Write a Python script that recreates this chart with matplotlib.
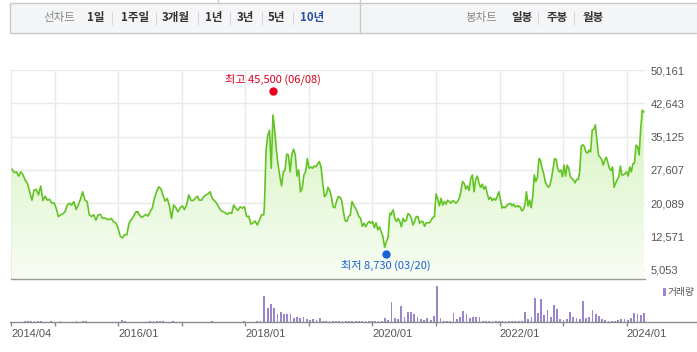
import numpy as np
import matplotlib.pyplot as plt
from matplotlib.patches import Rectangle, Polygon
from matplotlib.lines import Line2D
from matplotlib.colors import LinearSegmentedColormap

W, H = 697, 352
KR = ['Noto Sans CJK KR', 'DejaVu Sans']
NUM = ['Liberation Sans', 'DejaVu Sans']

# price in thousand won in five ~2 year stretches
seg_years = [(2014.33, 2016.31), (2016.30, 2018.29), (2018.30, 2020.30),
             (2020.30, 2022.30), (2022.30, 2024.27)]
price_1 = [27.8, 27.0, 27.2, 26.25, 27.2, 26.5, 25.3, 24.6, 22.7, 20.8, 23.1, 23.2, 22.0, 24.0,
           20.7, 21.7, 20.8, 21.0, 20.1, 20.2, 19.0, 17.1, 17.5, 17.7, 18.2, 19.7, 20.1, 19.7,
           20.5, 18.7, 19.7, 21.0, 22.7, 20.8, 20.5, 17.5, 17.1, 17.5, 16.3, 17.5, 17.6, 16.7,
           16.8, 16.5, 16.4, 16.7, 15.9, 15.7, 14.5, 12.7, 12.3, 13.0, 13.0, 15.6, 16.4, 17.1,
           18.1, 18.2]
price_2 = [18.2, 17.5, 16.9, 17.2, 17.6, 17.2, 18.2, 19.0, 21.2, 22.7, 23.8, 23.4, 22.0, 20.6,
           21.2, 19.5, 16.7, 19.7, 19.1, 18.2, 19.1, 19.5, 18.7, 19.7, 22.0, 20.8, 20.7, 21.2,
           21.7, 20.8, 20.8, 21.6, 22.0, 22.2, 22.7, 21.2, 20.7, 20.1, 19.3, 18.5, 18.2, 18.0,
           17.6, 18.0, 17.8, 19.7, 19.0, 18.5, 19.3, 19.0, 19.3, 17.1, 17.2, 15.4, 15.7, 16.1,
           15.2, 16.3, 17.5, 17.5]
price_3 = [19.3, 32.1, 35.5, 36.6, 28.0, 40.0, 36.6, 32.1, 28.7, 26.25, 24.0, 27.2, 27.5, 31.2,
           31.0, 27.2, 31.2, 32.3, 31.0, 26.25, 27.6, 22.7, 23.4, 26.5, 27.2, 30.2, 28.0, 28.3,
           28.0, 28.5, 28.3, 29.0, 29.5, 28.3, 24.6, 21.6, 22.0, 23.7, 23.0, 21.6, 19.3, 19.1,
           20.5, 21.6, 21.5, 20.8, 18.2, 16.2, 16.0, 17.1, 17.5, 20.5, 19.7, 19.0, 18.2, 17.1,
           16.7, 14.9, 15.6, 14.8, 15.6, 16.0, 15.6, 16.0, 14.6, 15.7, 14.1, 14.8, 13.7, 12.6,
           10.2, 11.4, 12.4, 17.8, 17.5]
price_4 = [18.0, 18.6, 16.7, 16.0, 16.7, 16.0, 14.8, 16.7, 16.0, 16.3, 17.8, 17.5, 16.7, 15.2,
           16.0, 17.1, 17.1, 15.6, 16.0, 16.0, 14.9, 15.7, 15.7, 15.7, 16.3, 16.9, 17.1, 22.2,
           21.0, 19.5, 21.2, 19.7, 20.5, 19.9, 20.8, 20.5, 20.1, 20.7, 20.5, 20.1, 20.5, 21.2,
           22.7, 25.0, 24.6, 23.3, 24.0, 23.0, 25.7, 26.5, 22.7, 25.5, 26.25, 24.6, 23.7, 24.4,
           23.3, 23.9, 22.2, 21.0, 21.5, 20.7, 21.2, 20.8, 21.6, 22.7, 20.8, 19.0, 19.3, 19.1,
           19.7, 19.9, 20.1, 19.5, 19.9, 19.3, 19.5, 19.3]
price_5 = [19.5, 19.3, 18.4, 18.7, 19.7, 22.7, 19.5, 20.8, 19.1, 21.6, 26.5, 25.0, 26.0, 30.2,
           29.8, 28.0, 26.8, 25.0, 24.2, 23.7, 24.2, 25.7, 28.0, 30.2, 30.0, 27.8, 27.2, 27.6,
           26.1, 28.7, 26.25, 28.7, 28.0, 26.1, 25.7, 25.4, 24.7, 25.5, 25.4, 27.2, 33.0, 33.3,
           32.9, 31.7, 31.4, 32.1, 31.7, 36.6, 36.8, 37.8, 34.4, 31.0, 30.5, 30.0, 28.7, 29.8,
           30.5, 29.3, 28.0, 27.5, 28.3, 23.7, 24.6, 25.5, 26.0, 28.5, 26.5, 26.5, 26.8, 27.2,
           26.25, 28.3, 27.2, 29.0, 29.2, 33.2, 32.9, 31.0, 37.0, 41.1, 40.7]

# trading volume (relative units), same stretches
vol_1 = [0, 0, 0, 0.3, 1, 1, 1.2, 1, 1.2, 1, 0.5, 0, 1, 0, 0, 1, 0, 0, 0, 0,
         1.2, 0, 1.5, 1.3, 0, 0, 0, 0, 0, 0, 0, 0, 0, 0, 2.2, 1, 0.5, 0, 0, 0.5]
vol_2 = [0.5, 0, 0, 0, 1, 1, 1.2, 1, 1, 0.5, 0, 1, 0, 0, 0, 0, 0.8, 0, 0, 0,
         0, 0, 0, 1.3, 0, 0, 0, 0, 0, 0, 0, 0, 0, 1.5, 0.5, 0.5, 0.7, 1, 1.5, 0]
vol_3 = [26, 14, 18, 14, 8, 10, 8, 8, 8, 4, 5, 4, 5, 3, 2, 3, 2, 4.7, 1.5, 1.3,
         1.5, 1.3, 1.5, 1.3, 1.5, 1.3, 1.3, 1, 1, 1, 1, 1, 1.3, 1, 1.3, 1.3, 1.5, 4.7, 2, 20]
vol_4 = [4, 4, 3, 16, 5.7, 10.7, 10, 8, 5, 3, 2, 4, 2, 6.3, 36, 4, 1.3, 1.3, 1.3, 9,
         3, 5, 11, 8, 4, 5.7, 5, 5, 1.3, 1.3, 1.3, 1, 1, 1.3, 1, 1.3, 1, 1.3, 1.3, 1.3]
vol_5 = [1.3, 1.3, 10.7, 3, 5.7, 24, 9, 23, 7.3, 12.3, 5, 17, 13.3, 3.3, 2, 3, 10, 5, 4, 3,
         21, 4, 5, 12.3, 8.3, 6.3, 3, 2, 1.5, 1.5, 1.5, 2, 3, 3, 2, 4, 9.7, 8.3, 7.3, 9.7]

y_ticks = [5053, 12571, 20089, 27607, 35125, 42643, 50161]
x_start, x_end = 2014.314, 2024.288
year_grid = [2015, 2016, 2017, 2018, 2019, 2020, 2021, 2022, 2023, 2024]
x_label_pos = [x_start, 2016, 2018, 2020, 2022, 2024]
x_labels = ['2014/04', '2016/01', '2018/01', '2020/01', '2022/01', '2024/01']

hi_x, hi_val, hi_text = 2018.43, 45500, '최고 45,500 (06/08)'
lo_x, lo_val, lo_text = 2020.21, 8730, '최저 8,730 (03/20)'

menu_left = [('선차트', 43, 'gray'), ('1일', 87, 'b'), ('1주일', 121, 'b'), ('3개월', 162, 'b'),
             ('1년', 205, 'b'), ('3년', 237, 'b'), ('5년', 268, 'b'), ('10년', 300, 'sel'),
             ('봉차트', 465, 'gray'), ('일봉', 511, 'b'), ('주봉', 547, 'b'), ('월봉', 583, 'b')]
menu_seps = [112, 156, 198, 230, 262, 293, 538, 574]

prices = [price_1, price_2, price_3, price_4, price_5]
vols = [vol_1, vol_2, vol_3, vol_4, vol_5]
px = np.concatenate([np.linspace(a, b, len(p)) for (a, b), p in zip(seg_years, prices)])
py = np.concatenate([np.array(p) * 1000 for p in prices])
vx = np.concatenate([np.linspace(a, b, len(v)) for (a, b), v in zip(seg_years, vols)])
vy = np.concatenate([np.array(v, dtype=float) for v in vols])


def box(x0, y0, x1, y1):
    # pixel box (top-left origin) -> figure fraction rect
    return [x0 / W, 1 - y1 / H, (x1 - x0) / W, (y1 - y0) / H]


fig = plt.figure(figsize=(W / 100, H / 100), dpi=100)
fig.patch.set_facecolor('white')

# ---- top menu bar
fig.patches.append(Rectangle((10 / W, 1 - 33 / H), (W + 5 - 10) / W, 30 / H,
                             transform=fig.transFigure, fc='#f4f5f7', ec='#c9c9c9', lw=1))
fig.add_artist(Line2D([360 / W, 360 / W], [1, 1 - 33 / H], color='#c9c9c9', lw=1))
fig.add_artist(Line2D([218 / W, 218 / W], [1, 1 - 3 / H], color='#c9c9c9', lw=1))
for s in menu_seps:
    fig.add_artist(Line2D([s / W, s / W], [1 - 12 / H, 1 - 24 / H], color='#d8d8d8', lw=0.8))
for txt, x, kind in menu_left:
    color = {'gray': '#8a8a8a', 'b': '#333333', 'sel': '#2a4fa8'}[kind]
    fig.text(x / W, 1 - 17.5 / H, txt, family=KR, fontsize=8.3, color=color,
             weight='normal' if kind == 'gray' else 'bold', ha='left', va='center')

# ---- price panel
ax = fig.add_axes(box(11, 70, 645, 279))
y_lo = 5053 - 9 * 7518 / 33.33
y_hi = 50161

grad = np.linspace(0, 1, 256).reshape(-1, 1)
cmap = LinearSegmentedColormap.from_list('g', ['#f8fdf4', '#d0f2b5'])
img = ax.imshow(grad, extent=[x_start, x_end, y_lo, y_hi], origin='lower',
                aspect='auto', cmap=cmap, zorder=1)
verts = np.column_stack([np.r_[px[0], px, px[-1]], np.r_[y_lo, py, y_lo]])
clip = Polygon(verts, closed=True, fc='none', ec='none', transform=ax.transData)
ax.add_patch(clip)
img.set_clip_path(clip)
ax.plot(px, py, color='#62c424', lw=1.2, zorder=3)

for v in y_ticks:
    ax.axhline(v, color='#e9e9e9', lw=1, zorder=0)
for xg in [x_start] + year_grid:
    ax.axvline(xg, color='#e9e9e9', lw=1, zorder=0)

ax.plot(hi_x, hi_val, 'o', color='#e8001c', ms=5, zorder=4, clip_on=False)
ax.annotate(hi_text, (hi_x, hi_val), xytext=(0, 8), textcoords='offset points',
            ha='center', va='center', color='#d9001b', fontsize=8, family=KR)
ax.plot(lo_x, lo_val, 'o', color='#1a63d6', ms=5, zorder=4)
ax.annotate(lo_text, (lo_x, lo_val), xytext=(0, -8.3), textcoords='offset points',
            ha='center', va='center', color='#1a5fd0', fontsize=8, family=KR)

ax.set_xlim(x_start, x_end)
ax.set_ylim(y_lo, y_hi)
ax.set_facecolor('none')
ax.yaxis.tick_right()
ax.set_yticks(y_ticks)
ax.set_yticklabels([f'{v:,}' for v in y_ticks], family=NUM, fontsize=8, color='#555555')
ax.tick_params(axis='y', length=0, pad=4)
ax.set_xticks([])
for side in ['top', 'left', 'right']:
    ax.spines[side].set_visible(False)
ax.spines['bottom'].set_color('#9a9a9a')
ax.spines['bottom'].set_linewidth(1)

# ---- volume panel
vax = fig.add_axes(box(11, 284, 645, 322.3))
vax.bar(vx, vy, width=0.028, color='#9a86c8', align='center')
vax.set_xlim(x_start, x_end)
vax.set_ylim(0, 38.3)
vax.set_facecolor('none')
for side in ['top', 'left', 'right', 'bottom']:
    vax.spines[side].set_visible(False)
vax.set_yticks([])
vax.set_xticks([x_start] + year_grid)
vax.set_xticklabels([x_labels[x_label_pos.index(t)] if t in x_label_pos else ''
                     for t in [x_start] + year_grid], family=NUM, fontsize=8, color='#555555')
for lab in vax.get_xticklabels():
    lab.set_ha('left')
vax.tick_params(axis='x', length=3, width=1, color='#8a8a8a', pad=2)
fig.add_artist(Line2D([10 / W, 1], [1 - 322.3 / H, 1 - 322.3 / H], color='#8a8a8a', lw=1))

fig.patches.append(Rectangle((663 / W, 1 - 296 / H), 3 / W, 8 / H,
                             transform=fig.transFigure, fc='#9a86c8', ec='none'))
fig.text(668 / W, 1 - 292.5 / H, '거래량', family=KR, fontsize=7, color='#555555',
         ha='left', va='center')

fig.savefig('out.png', dpi=100, facecolor='white')
